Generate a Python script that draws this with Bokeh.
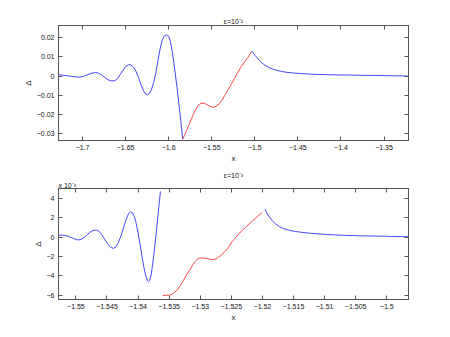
from bokeh.plotting import figure
from bokeh.models import Range1d, FixedTicker, LinearAxis, Title
from bokeh.layouts import column
from bokeh.embed import file_html
from bokeh.resources import INLINE

# ---------------- data: top panel (eps = 1e-2) ----------------
top_blue1_x = [-1.7279, -1.7235, -1.719, -1.715, -1.7112, -1.707, -1.7035, -1.700, -1.6977, -1.695,
               -1.6919, -1.688, -1.6849, -1.6815, -1.6783, -1.675, -1.6716, -1.668, -1.6647, -1.662,
               -1.6597, -1.6565, -1.653, -1.6495, -1.6465, -1.644, -1.641, -1.638, -1.635, -1.632,
               -1.629, -1.6265, -1.6245, -1.6225, -1.6201, -1.6175, -1.615, -1.6125, -1.61, -1.6075,
               -1.605, -1.6025, -1.600, -1.598, -1.596, -1.594, -1.592, -1.590, -1.588, -1.586, -1.5837]
top_blue1_y = [0.0007, 0.0005, 0.0002, 0.0, -0.0003, -0.0005, -0.0005, -0.0003, 0.0, 0.0005,
               0.0011, 0.0016, 0.0018, 0.0015, 0.0007, -0.0004, -0.0016, -0.0024, -0.0026, -0.0023,
               -0.0014, 0.0006, 0.003, 0.0051, 0.0059, 0.0058, 0.0047, 0.0025, -0.0008, -0.0046,
               -0.0078, -0.0094, -0.0097, -0.0091, -0.0072, -0.0034, 0.0015, 0.0078, 0.0140, 0.0187,
               0.0208, 0.0213, 0.0206, 0.0180, 0.0130, 0.0070, 0.0000, -0.0070, -0.0150, -0.0230, -0.0328]
top_red_x = [-1.5837, -1.5815, -1.5795, -1.5773, -1.5751, -1.572, -1.5685, -1.5655, -1.5625, -1.5600,
             -1.557, -1.554, -1.5505, -1.5475, -1.5445, -1.5415, -1.5385, -1.535, -1.5315, -1.5275,
             -1.5238, -1.52, -1.516, -1.512, -1.5082, -1.5035]
top_red_y = [-0.0328, -0.0307, -0.0285, -0.0263, -0.0241, -0.0205, -0.0172, -0.0152, -0.0142, -0.0141,
             -0.0145, -0.0152, -0.0160, -0.0162, -0.0157, -0.0145, -0.0128, -0.0102, -0.0075, -0.0044,
             -0.0014, 0.0017, 0.0047, 0.0072, 0.0096, 0.0129]
top_blue2_x = [-1.5035, -1.5015, -1.4995, -1.4972, -1.4950, -1.4920, -1.4895, -1.4860, -1.4817, -1.4760,
               -1.4701, -1.4630, -1.4565, -1.4470, -1.4372, -1.4178, -1.379, -1.35, -1.3216]
top_blue2_y = [0.0129, 0.0118, 0.0106, 0.0094, 0.0082, 0.0069, 0.0060, 0.0050, 0.0040, 0.0031,
               0.0025, 0.0019, 0.0016, 0.0013, 0.001, 0.0007, 0.0004, 0.0002, 0.0]

top_xticks = [-1.7, -1.65, -1.6, -1.55, -1.5, -1.45, -1.4, -1.35]
top_xlabels = ["\u22121.7", "\u22121.65", "\u22121.6", "\u22121.55", "\u22121.5", "\u22121.45", "\u22121.4", "\u22121.35"]
top_yticks = [0.02, 0.01, 0.0, -0.01, -0.02, -0.03]
top_ylabels = ["0.02", "0.01", "0", "\u22120.01", "\u22120.02", "\u22120.03"]
top_title = "\u03b5=10\u207b\u00b2"

# ---------------- data: bottom panel (eps = 1e-3), values in units of 1e-3 ----------------
bot_blue1_x = [-1.5528, -1.5522, -1.5516, -1.5510, -1.5504, -1.5500, -1.5496, -1.5491, -1.5486, -1.5481,
               -1.5476, -1.5471, -1.5467, -1.5463, -1.5459, -1.5454, -1.5449, -1.5444, -1.5440, -1.5436,
               -1.5432, -1.5427, -1.5422, -1.5418, -1.5415, -1.5412, -1.5409, -1.5406, -1.5403, -1.5400,
               -1.5397, -1.5394, -1.5391, -1.5388, -1.5385, -1.5383, -1.5381, -1.5379, -1.5377, -1.5374,
               -1.5371, -1.5368, -1.5366, -1.5364]
bot_blue1_y = [0.2, 0.2, 0.15, 0.02, -0.14, -0.25, -0.3, -0.22, 0.0, 0.3,
               0.55, 0.7, 0.72, 0.6, 0.3, -0.2, -0.7, -1.05, -1.17, -1.05,
               -0.6, 0.2, 1.25, 2.0, 2.45, 2.6, 2.5, 2.1, 1.4, 0.45,
               -0.7, -1.9, -3.0, -3.9, -4.5, -4.6, -4.45, -3.9, -3.0, -1.5,
               0.3, 2.2, 3.5, 4.7]
bot_red_x = [-1.5360, -1.5354, -1.5348, -1.5343, -1.5337, -1.5332, -1.5327, -1.5322, -1.5316, -1.5312,
             -1.5308, -1.5304, -1.5300, -1.5295, -1.5289, -1.5283, -1.5278, -1.5273, -1.5267, -1.5262,
             -1.5256, -1.5249, -1.5243, -1.5238, -1.5227, -1.5216, -1.5201]
bot_red_y = [-6.03, -6.0, -5.95, -5.8, -5.45, -5.0, -4.45, -3.9, -3.3, -2.85,
             -2.5, -2.25, -2.15, -2.15, -2.22, -2.3, -2.32, -2.2, -1.9, -1.6,
             -1.2, -0.5, -0.05, 0.33, 1.0, 1.67, 2.5]
bot_blue2_x = [-1.5196, -1.5193, -1.519, -1.5185, -1.5179, -1.5172, -1.5165, -1.5156, -1.5147, -1.5125,
               -1.5098, -1.507, -1.5045, -1.5, -1.4965]
bot_blue2_y = [2.9, 2.5, 2.17, 1.75, 1.35, 1.05, 0.85, 0.68, 0.57, 0.4,
               0.27, 0.18, 0.13, 0.08, 0.03]

bot_xticks = [-1.55, -1.545, -1.54, -1.535, -1.53, -1.525, -1.52, -1.515, -1.51, -1.505, -1.5]
bot_xlabels = ["\u22121.55", "\u22121.545", "\u22121.54", "\u22121.535", "\u22121.53", "\u22121.525",
               "\u22121.52", "\u22121.515", "\u22121.51", "\u22121.505", "\u22121.5"]
bot_yticks = [4, 2, 0, -2, -4, -6]
bot_ylabels = ["4", "2", "0", "\u22122", "\u22124", "\u22126"]
bot_title = "\u03b5=10\u207b\u00b3"
bot_multiplier = "x 10\u207b\u00b3"

FONT = "Liberation Sans"
AX = "#555555"
TXT = "#111111"
BLUE = "#4646ff"
RED = "#ff4646"


def style_axis(ax, ticks, labels, show_labels=True):
    ax.ticker = FixedTicker(ticks=ticks)
    ax.major_label_overrides = {t: l for t, l in zip(ticks, labels)}
    ax.major_tick_in = 4
    ax.major_tick_out = 0
    ax.minor_tick_line_color = None
    ax.axis_line_color = AX
    ax.major_tick_line_color = AX
    ax.major_label_text_font = FONT
    ax.major_label_text_font_size = "7px" if show_labels else "0px"
    ax.major_label_text_color = TXT if show_labels else None
    ax.major_label_standoff = 4
    ax.axis_label_text_font = FONT
    ax.axis_label_text_font_size = "8px"
    ax.axis_label_text_font_style = "normal"
    ax.axis_label_text_color = TXT
    ax.axis_label_standoff = 1


def make_fig(xr, yr, xt, xl, yt, yl, height, btop, bbot, title):
    p = figure(width=442, height=height, x_range=Range1d(*xr), y_range=Range1d(*yr),
               output_backend="svg", toolbar_location=None,
               min_border_left=58, min_border_right=34, min_border_top=btop, min_border_bottom=bbot)
    p.xgrid.visible = False
    p.ygrid.visible = False
    p.outline_line_color = AX
    p.background_fill_color = "white"
    p.border_fill_color = "white"
    style_axis(p.xaxis[0], xt, xl)
    style_axis(p.yaxis[0], yt, yl)
    p.xaxis.axis_label = "x"
    p.yaxis.axis_label = "\u0394"
    ax_top = LinearAxis()
    style_axis(ax_top, xt, xl, show_labels=False)
    ax_top.major_label_standoff = 0
    p.add_layout(ax_top, "above")
    ax_right = LinearAxis()
    style_axis(ax_right, yt, yl, show_labels=False)
    ax_right.major_label_standoff = 0
    p.add_layout(ax_right, "right")
    p.title.text = title
    p.title.align = "center"
    p.title.offset = -10
    p.title.standoff = 2
    p.title.text_font = FONT
    p.title.text_font_size = "7px"
    p.title.text_font_style = "normal"
    p.title.text_color = TXT
    return p


p1 = make_fig((-1.7279, -1.3216), (-0.0335, 0.02625), top_xticks, top_xlabels, top_yticks, top_ylabels,
              168, 25, 28, top_title)
p1.line(top_blue1_x, top_blue1_y, line_color=BLUE, line_width=1)
p1.line(top_red_x, top_red_y, line_color=RED, line_width=1)
p1.line(top_blue2_x, top_blue2_y, line_color=BLUE, line_width=1)

p2 = make_fig((-1.5528, -1.4965), (-6.43, 5.0), bot_xticks, bot_xlabels, bot_yticks, bot_ylabels,
              161, 17, 30, bot_title)
p2.add_layout(Title(text=bot_multiplier, align="left", text_font=FONT, text_font_size="7px",
                    text_font_style="normal", text_color=TXT, standoff=0), "above")
p2.line(bot_blue1_x, bot_blue1_y, line_color=BLUE, line_width=1)
p2.line(bot_red_x, bot_red_y, line_color=RED, line_width=1)
p2.line(bot_blue2_x, bot_blue2_y, line_color=BLUE, line_width=1)

layout = column(p1, p2, spacing=0)
open("out.html", "w").write(file_html(layout, INLINE))
